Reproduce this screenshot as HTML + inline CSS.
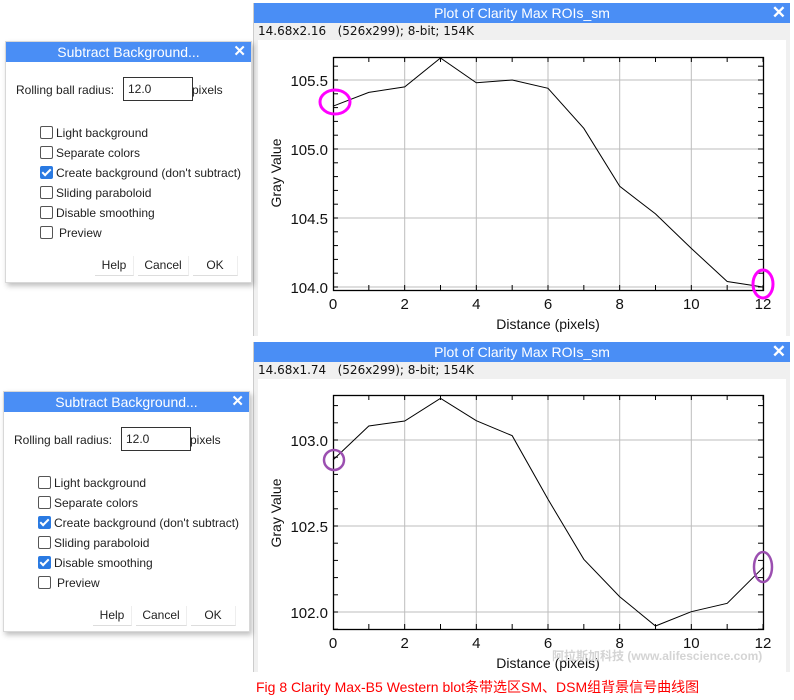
<!DOCTYPE html>
<html><head><meta charset="utf-8"><style>
body{margin:0;width:794px;height:700px;background:#fff;position:relative;overflow:hidden;font-family:"Liberation Sans","Noto Sans CJK SC",sans-serif;}
.a{position:absolute;}
.dlg{position:absolute;background:#fff;border:1px solid #d8d8d8;box-shadow:2px 3px 5px rgba(0,0,0,0.25);font-size:12px;color:#222;}
.dt{position:absolute;left:0;top:0;right:0;height:20px;background:#4a8ef5;color:#fff;font-size:14px;text-align:center;line-height:20px;}
.dx{position:absolute;right:5px;top:0;color:#fff;font-size:15px;font-weight:bold;line-height:20px;}
.cb{position:absolute;width:11px;height:11px;border:1px solid #555;border-radius:2px;background:#fff;}
.cb.on{background:#2a7ae2;border-color:#2a7ae2;}
.cb.on:after{content:"";position:absolute;left:3px;top:0px;width:3px;height:7px;border:solid #fff;border-width:0 2px 2px 0;transform:rotate(45deg);}
.lb{position:absolute;font-size:12px;}
.btn{position:absolute;height:19px;line-height:19px;text-align:center;font-size:12px;border-bottom:1px solid #ddd;border-right:1px solid #eee;}
.win{position:absolute;background:#f0f0f0;border-left:1px solid #ccc;}
.wt{position:absolute;left:0;right:0;top:0;height:20px;background:#4a8ef5;color:#fff;font-size:14px;text-align:center;line-height:20px;}
.wi{position:absolute;left:4px;font-family:"DejaVu Sans",sans-serif;font-size:12px;color:#111;}
</style></head><body>

<div class="win" style="left:253px;top:3px;width:536px;height:333px;">
 <div class="wt">Plot of Clarity Max ROIs_sm</div>
 <div class="dx" style="right:4px;font-size:17px;">✕</div>
 <div class="wi" style="top:21px;">14.68x2.16&nbsp;&nbsp;&nbsp;(526x299); 8-bit; 154K</div>
 <div class="a" style="left:4px;top:37px;width:528px;height:296px;background:#fff;"></div>
</div>
<div class="win" style="left:253px;top:342px;width:536px;height:330px;">
 <div class="wt">Plot of Clarity Max ROIs_sm</div>
 <div class="dx" style="right:4px;font-size:17px;">✕</div>
 <div class="wi" style="top:21px;">14.68x1.74&nbsp;&nbsp;&nbsp;(526x299); 8-bit; 154K</div>
 <div class="a" style="left:4px;top:37px;width:528px;height:293px;background:#fff;"></div>
</div>

<svg class="a" style="left:0;top:0" width="794" height="700">
<defs>
 <pattern id="tyA" patternUnits="userSpaceOnUse" width="20" height="13.8" x="0" y="286.5"><rect x="0" y="0" width="20" height="1" fill="#000"/></pattern>
 <pattern id="tyB" patternUnits="userSpaceOnUse" width="20" height="17.2" x="0" y="611.5"><rect x="0" y="0" width="20" height="1" fill="#000"/></pattern>
 <pattern id="tx" patternUnits="userSpaceOnUse" width="35.833" height="20" x="332.5" y="0"><rect x="0" y="0" width="1" height="20" fill="#000"/></pattern>
</defs>
<g stroke="#bdbdbd" stroke-width="1">
 <line x1="404.7" y1="57" x2="404.7" y2="290"/><line x1="476.3" y1="57" x2="476.3" y2="290"/><line x1="548" y1="57" x2="548" y2="290"/><line x1="619.7" y1="57" x2="619.7" y2="290"/><line x1="691.3" y1="57" x2="691.3" y2="290"/>
 <line x1="333" y1="80" x2="763" y2="80"/><line x1="333" y1="149" x2="763" y2="149"/><line x1="333" y1="218" x2="763" y2="218"/><line x1="333" y1="287" x2="763" y2="287"/>
</g>
<rect x="333" y="57" width="5" height="233" fill="url(#tyA)"/>
<rect x="758" y="57" width="5" height="233" fill="url(#tyA)"/>
<rect x="333" y="57" width="431" height="5" fill="url(#tx)"/>
<rect x="333" y="285" width="431" height="5" fill="url(#tx)"/>
<rect x="333.5" y="57.5" width="430" height="233" fill="none" stroke="#000" stroke-width="1.3"/>
<polyline fill="none" stroke="#000" stroke-width="1" points="333,106.2 368.8,92.4 404.7,86.9 440.5,58 476.3,82.8 512.2,80 548,88.3 583.8,128.3 619.7,186.3 655.5,213.9 691.3,248.4 727.2,281.5 763,287"/>
<g font-size="15" fill="#111" font-family="Liberation Sans,sans-serif">
 <g text-anchor="end"><text x="328" y="86">105.5</text><text x="328" y="155">105.0</text><text x="328" y="224">104.5</text><text x="328" y="293">104.0</text></g>
 <g text-anchor="middle"><text x="333" y="309">0</text><text x="404.7" y="309">2</text><text x="476.3" y="309">4</text><text x="548" y="309">6</text><text x="619.7" y="309">8</text><text x="691.3" y="309">10</text><text x="763" y="309">12</text>
 <text x="548" y="329" font-size="14">Distance (pixels)</text>
 <text transform="translate(281,173) rotate(-90)" font-size="14">Gray Value</text></g>
</g>
<ellipse cx="335" cy="102" rx="15" ry="12" fill="none" stroke="#ff00ff" stroke-width="3"/>
<ellipse cx="763" cy="284" rx="10" ry="14" fill="none" stroke="#ff00ff" stroke-width="3"/>

<g stroke="#bdbdbd" stroke-width="1">
 <line x1="404.7" y1="395" x2="404.7" y2="629"/><line x1="476.3" y1="395" x2="476.3" y2="629"/><line x1="548" y1="395" x2="548" y2="629"/><line x1="619.7" y1="395" x2="619.7" y2="629"/><line x1="691.3" y1="395" x2="691.3" y2="629"/>
 <line x1="333" y1="440" x2="763" y2="440"/><line x1="333" y1="526" x2="763" y2="526"/><line x1="333" y1="612" x2="763" y2="612"/>
</g>
<rect x="333" y="395" width="5" height="234" fill="url(#tyB)"/>
<rect x="758" y="395" width="5" height="234" fill="url(#tyB)"/>
<rect x="333" y="395" width="431" height="5" fill="url(#tx)"/>
<rect x="333" y="624" width="431" height="5" fill="url(#tx)"/>
<rect x="333.5" y="395.5" width="430" height="234" fill="none" stroke="#000" stroke-width="1.3"/>
<polyline fill="none" stroke="#000" stroke-width="1" points="333,460 368.8,426 404.7,421 440.5,398.3 476.3,420.7 512.2,435.7 548,499.3 583.8,559.3 619.7,596.7 655.5,626 691.3,611.7 727.2,603.3 763,567.7"/>
<g font-size="15" fill="#111" font-family="Liberation Sans,sans-serif">
 <g text-anchor="end"><text x="328" y="446">103.0</text><text x="328" y="532">102.5</text><text x="328" y="618">102.0</text></g>
 <g text-anchor="middle"><text x="333" y="648">0</text><text x="404.7" y="648">2</text><text x="476.3" y="648">4</text><text x="548" y="648">6</text><text x="619.7" y="648">8</text><text x="691.3" y="648">10</text><text x="763" y="648">12</text>
 <text x="548" y="668" font-size="14">Distance (pixels)</text>
 <text transform="translate(281,513) rotate(-90)" font-size="14">Gray Value</text></g>
</g>
<text x="552" y="660" font-size="12" fill="#d4d4d4" font-weight="bold" font-family="Liberation Sans,Noto Sans CJK SC,sans-serif">阿拉斯加科技 (www.alifescience.com)</text>
<ellipse cx="334" cy="460" rx="10" ry="10" fill="none" stroke="#9b4fb0" stroke-width="2.5"/>
<ellipse cx="763" cy="567" rx="9" ry="15" fill="none" stroke="#9b4fb0" stroke-width="2.5"/>
</svg>

<div class="dlg" style="left:5px;top:41px;width:245px;height:240px;">
 <div class="dt">Subtract Background...</div><div class="dx">✕</div>
 <div class="lb" style="left:10px;top:41px;">Rolling ball radius:</div>
 <div class="a" style="left:117px;top:35px;width:64px;height:22px;border:1px solid #333;font-size:12px;line-height:22px;padding-left:4px;">12.0</div>
 <div class="lb" style="left:186px;top:41px;">pixels</div>
 <div class="cb" style="left:34px;top:84px;"></div><div class="lb" style="left:50px;top:84px;">Light background</div>
 <div class="cb" style="left:34px;top:104px;"></div><div class="lb" style="left:50px;top:104px;">Separate colors</div>
 <div class="cb on" style="left:34px;top:124px;"></div><div class="lb" style="left:50px;top:124px;">Create background (don't subtract)</div>
 <div class="cb" style="left:34px;top:144px;"></div><div class="lb" style="left:50px;top:144px;">Sliding paraboloid</div>
 <div class="cb" style="left:34px;top:164px;"></div><div class="lb" style="left:50px;top:164px;">Disable smoothing</div>
 <div class="cb" style="left:34px;top:184px;"></div><div class="lb" style="left:53px;top:184px;">Preview</div>
 <div class="btn" style="left:89px;top:214px;width:38px;">Help</div>
 <div class="btn" style="left:132px;top:214px;width:50px;">Cancel</div>
 <div class="btn" style="left:187px;top:214px;width:44px;">OK</div>
</div>
<div class="dlg" style="left:3px;top:391px;width:245px;height:239px;">
 <div class="dt">Subtract Background...</div><div class="dx">✕</div>
 <div class="lb" style="left:10px;top:41px;">Rolling ball radius:</div>
 <div class="a" style="left:117px;top:35px;width:64px;height:22px;border:1px solid #333;font-size:12px;line-height:22px;padding-left:4px;">12.0</div>
 <div class="lb" style="left:186px;top:41px;">pixels</div>
 <div class="cb" style="left:34px;top:84px;"></div><div class="lb" style="left:50px;top:84px;">Light background</div>
 <div class="cb" style="left:34px;top:104px;"></div><div class="lb" style="left:50px;top:104px;">Separate colors</div>
 <div class="cb on" style="left:34px;top:124px;"></div><div class="lb" style="left:50px;top:124px;">Create background (don't subtract)</div>
 <div class="cb" style="left:34px;top:144px;"></div><div class="lb" style="left:50px;top:144px;">Sliding paraboloid</div>
 <div class="cb on" style="left:34px;top:164px;"></div><div class="lb" style="left:50px;top:164px;">Disable smoothing</div>
 <div class="cb" style="left:34px;top:184px;"></div><div class="lb" style="left:53px;top:184px;">Preview</div>
 <div class="btn" style="left:89px;top:214px;width:38px;">Help</div>
 <div class="btn" style="left:132px;top:214px;width:50px;">Cancel</div>
 <div class="btn" style="left:187px;top:214px;width:44px;">OK</div>
</div>

<div class="a" style="left:256px;top:677px;font-size:14px;color:#f00;white-space:nowrap;">Fig 8 Clarity Max-B5 Western blot条带选区SM、DSM组背景信号曲线图</div>
</body></html>
